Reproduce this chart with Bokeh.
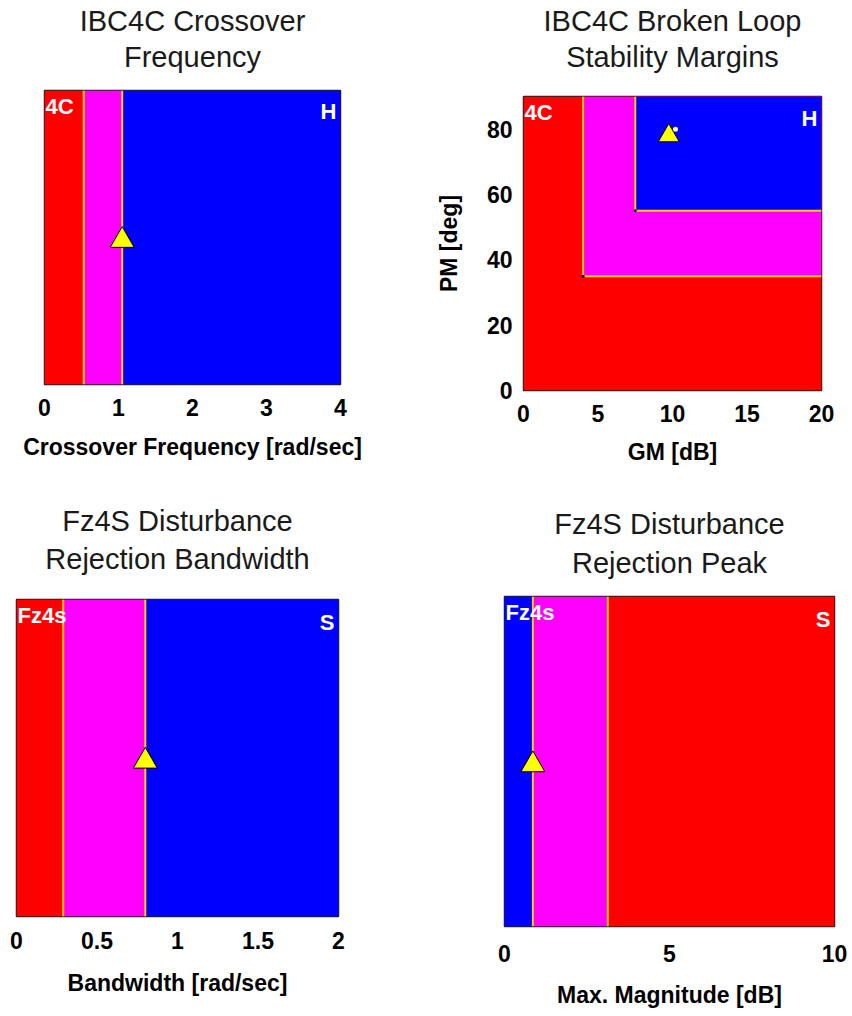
from bokeh.plotting import figure
from bokeh.layouts import row, column
from bokeh.models import Title, FixedTicker, Range1d, NumeralTickFormatter
from bokeh.embed import file_html
from bokeh.resources import INLINE
from bokeh.core.properties import value

FONT = "Liberation Sans"

# ---------------- data ----------------
# Panel 1: IBC4C Crossover Frequency
cf_title = ["IBC4C Crossover", "Frequency"]
cf_xlabel = "Crossover Frequency [rad/sec]"
cf_edges = [0.0, 0.53, 1.05, 4.0]          # red | magenta | blue
cf_xticks = [0, 1, 2, 3, 4]
cf_marker_x = [1.05]
cf_marker_y = [0.49]
cf_tags = ["4C", "H"]

# Panel 2: IBC4C Broken Loop Stability Margins
sm_title = ["IBC4C Broken Loop", "Stability Margins"]
sm_xlabel = "GM [dB]"
sm_ylabel = "PM [deg]"
sm_gm_limits = [4.0, 7.5]                  # magenta / blue region lower GM bound
sm_pm_limits = [35.0, 55.0]                # magenta / blue region lower PM bound
sm_xmax = 20
sm_ymax = 90
sm_xticks = [0, 5, 10, 15, 20]
sm_yticks = [0, 20, 40, 60, 80]
sm_marker_x = [9.75]
sm_marker_y = [78]
sm_dot_x = [10.2]
sm_dot_y = [80]
sm_tags = ["4C", "H"]

# Panel 3: Fz4S Disturbance Rejection Bandwidth
bw_title = ["Fz4S Disturbance", "Rejection Bandwidth"]
bw_xlabel = "Bandwidth [rad/sec]"
bw_edges = [0.0, 0.29, 0.8, 2.0]           # red | magenta | blue
bw_xticks = [0, 0.5, 1, 1.5, 2]
bw_marker_x = [0.8]
bw_marker_y = [0.49]
bw_tags = ["Fz4s", "S"]

# Panel 4: Fz4S Disturbance Rejection Peak
pk_title = ["Fz4S Disturbance", "Rejection Peak"]
pk_xlabel = "Max. Magnitude [dB]"
pk_edges = [0.0, 0.86, 3.13, 10.0]         # blue | magenta | red
pk_xticks = [0, 5, 10]
pk_marker_x = [0.86]
pk_marker_y = [0.49]
pk_tags = ["Fz4s", "S"]

RED = "#ff0000"
MAG = "#ff00ff"
BLUE = "#0000ff"
EDGE = "#ffcc00"


def make_fig(w, h, bl, br, bt, bb, x_end, y_end, title_lines, title_dx, title_so, xlabel, xticks,
             tick_standoff, label_standoff, ylabel=None, yticks=None):
    p = figure(width=w, height=h, x_range=Range1d(0, x_end), y_range=Range1d(0, y_end),
               output_backend="svg", toolbar_location=None,
               min_border_left=bl, min_border_right=br,
               min_border_top=bt, min_border_bottom=bb)
    p.title = None
    # the line nearest to the frame is added first
    for line, so in reversed(list(zip(title_lines, title_so))):
        p.add_layout(Title(text=line, align="center", offset=title_dx, standoff=so,
                           text_font=FONT, text_font_size="29px", text_font_style="normal",
                           text_color="#1a1a1a"), "above")
    p.grid.visible = False
    p.outline_line_color = "#222222"
    p.outline_line_width = 1.5
    p.background_fill_color = "white"
    p.border_fill_color = "white"

    xa = p.xaxis[0]
    xa.ticker = FixedTicker(ticks=xticks)
    xa.formatter = NumeralTickFormatter(format="0.[0]")
    xa.axis_line_color = None
    xa.major_tick_line_color = None
    xa.minor_tick_line_color = None
    xa.major_tick_in = 0
    xa.major_tick_out = 0
    xa.major_label_standoff = tick_standoff
    xa.major_label_text_font = FONT
    xa.major_label_text_font_size = "23px"
    xa.major_label_text_font_style = "bold"
    xa.major_label_text_color = "black"
    xa.axis_label = xlabel
    xa.axis_label_text_font = FONT
    xa.axis_label_text_font_size = "23px"
    xa.axis_label_text_font_style = "bold"
    xa.axis_label_text_color = "black"
    xa.axis_label_standoff = label_standoff

    ya = p.yaxis[0]
    if ylabel is None:
        ya.visible = False
    else:
        ya.ticker = FixedTicker(ticks=yticks)
        ya.axis_line_color = None
        ya.major_tick_line_color = None
        ya.minor_tick_line_color = None
        ya.major_tick_in = 0
        ya.major_tick_out = 0
        ya.major_label_standoff = 11
        ya.major_label_text_font = FONT
        ya.major_label_text_font_size = "23px"
        ya.major_label_text_font_style = "bold"
        ya.major_label_text_color = "black"
        ya.major_label_orientation = "horizontal"
        ya.axis_label = ylabel
        ya.axis_label_text_font = FONT
        ya.axis_label_text_font_size = "23px"
        ya.axis_label_text_font_style = "bold"
        ya.axis_label_text_color = "black"
        ya.axis_label_standoff = 22
    return p


def add_tags(p, tags, x_end, y_end, left_dy, right_dy):
    p.text(x=[0], y=[y_end], text=[tags[0]], text_align="left", text_baseline="top",
           x_offset=1, y_offset=left_dy, text_color="white", text_font=value(FONT),
           text_font_style="bold", text_font_size="22px")
    p.text(x=[x_end], y=[y_end], text=[tags[1]], text_align="right", text_baseline="top",
           x_offset=-4, y_offset=right_dy, text_color="white", text_font=value(FONT),
           text_font_style="bold", text_font_size="22px")


def add_bands(p, edges, colors, y_end):
    p.quad(left=edges[:-1], right=edges[1:], bottom=[0] * 3, top=[y_end] * 3,
           fill_color=colors, line_color=None)
    p.segment(x0=edges[1:3], y0=[0, 0], x1=edges[1:3], y1=[y_end, y_end],
              line_color=EDGE, line_width=2)


def add_marker(p, xs, ys, size=24):
    p.scatter(x=xs, y=ys, marker="triangle", size=size, fill_color="#ffff00",
              line_color="black", line_width=1)


# Panel 1
p1 = make_fig(426, 490, 44, 86, 90, 106, cf_edges[-1], 1, cf_title, 1, [-32, 36],
              cf_xlabel, cf_xticks, 14, 15)
add_bands(p1, cf_edges, [RED, MAG, BLUE], 1)
add_marker(p1, cf_marker_x, cf_marker_y)
add_tags(p1, cf_tags, cf_edges[-1], 1, 3, 8)

# Panel 2
p2 = make_fig(426, 490, 97, 31, 96, 100, sm_xmax, sm_ymax, sm_title, -8, [-44, 48],
              sm_xlabel, sm_xticks, 14, 14, sm_ylabel, sm_yticks)
p2.quad(left=[0], right=[sm_xmax], bottom=[0], top=[sm_ymax], fill_color=RED, line_color=None)
p2.quad(left=sm_gm_limits, right=[sm_xmax] * 2, bottom=sm_pm_limits, top=[sm_ymax] * 2,
        fill_color=[MAG, BLUE], line_color=None)
p2.multi_line(xs=[[g, g, sm_xmax] for g in sm_gm_limits],
              ys=[[sm_ymax, m, m] for m in sm_pm_limits], line_color=EDGE, line_width=2)
p2.scatter(x=sm_gm_limits, y=sm_pm_limits, size=3, fill_color="black", line_color=None)
add_marker(p2, sm_marker_x, sm_marker_y, size=21)
p2.scatter(x=sm_dot_x, y=sm_dot_y, size=5, fill_color="#ffff99", line_color=None)
add_tags(p2, sm_tags, sm_xmax, sm_ymax, 3, 9)

# Panel 3
p3 = make_fig(426, 526, 16, 88, 109, 100, bw_edges[-1], 1, bw_title, -7, [-42, 50],
              bw_xlabel, bw_xticks, 15, 18)
add_bands(p3, bw_edges, [RED, MAG, BLUE], 1)
add_marker(p3, bw_marker_x, bw_marker_y)
add_tags(p3, bw_tags, bw_edges[-1], 1, 3, 10)

# Panel 4
p4 = make_fig(426, 526, 78, 18, 106, 90, pk_edges[-1], 1, pk_title, -3, [-26, 36],
              pk_xlabel, pk_xticks, 18, 17)
add_bands(p4, pk_edges, [BLUE, MAG, RED], 1)
add_marker(p4, pk_marker_x, pk_marker_y)
add_tags(p4, pk_tags, pk_edges[-1], 1, 3, 10)

layout = row(column(row(p1), row(p3)), column(row(p2), row(p4)))
open("out.html", "w").write(file_html(layout, INLINE))
